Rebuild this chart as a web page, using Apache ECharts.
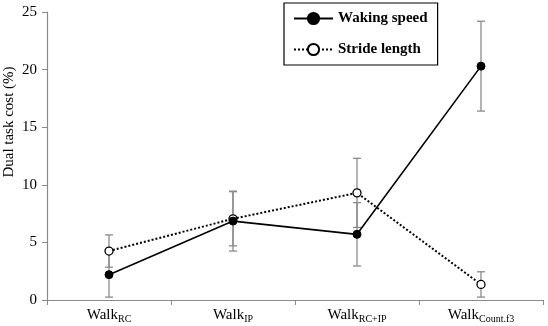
<!DOCTYPE html>
<html>
<head>
<meta charset="utf-8">
<script src="https://cdn.jsdelivr.net/npm/echarts@6/dist/echarts.min.js"></script>
<style>
  html, body { margin: 0; padding: 0; background: #fff; }
  #chart { width: 548px; height: 326px; }
</style>
</head>
<body>
<div id="chart"></div>
<script>
// categories (main text + subscript)
const categories = ['RC', 'IP', 'RC+IP', 'Count.f3'];

// dual task cost (%) with symmetric error (+/-)
const walkingSpeed = [2.2, 6.85, 5.7, 20.3];
const walkingSpeedErr = [1.95, 2.6, 2.75, 3.9];
const strideLength = [4.25, 7.05, 9.3, 1.35];
const strideLengthErr = [1.4, 2.35, 3.0, 1.1];

const yTicks = { min: 0, max: 25, interval: 5 };

const serif = '"Liberation Serif", "Times New Roman", serif';
const errColor = '#8a8a8a';
const axisColor = '#8a8a8a';

const chart = echarts.init(document.getElementById('chart'));

function errData(vals, errs) {
  return vals.map((v, i) => [i, v - errs[i], v + errs[i]]);
}

function renderErr(params, api) {
  const x = api.value(0);
  const lo = api.coord([x, api.value(1)]);
  const hi = api.coord([x, api.value(2)]);
  const half = 4;
  const style = { stroke: errColor, lineWidth: 1.3 };
  return {
    type: 'group',
    children: [
      { type: 'line', shape: { x1: lo[0], y1: lo[1], x2: hi[0], y2: hi[1] }, style },
      { type: 'line', shape: { x1: lo[0] - half, y1: lo[1], x2: lo[0] + half, y2: lo[1] }, style },
      { type: 'line', shape: { x1: hi[0] - half, y1: hi[1], x2: hi[0] + half, y2: hi[1] }, style }
    ]
  };
}

const option = {
  animation: false,
  backgroundColor: '#fff',
  grid: { left: 47, right: 5, top: 12, bottom: 26, containLabel: false, outerBoundsMode: 'none' },
  legend: {
    data: ['Waking speed', 'Stride length'],
    orient: 'vertical',
    left: 284,
    top: 3,
    padding: [8, 10, 8, 9],
    itemWidth: 39,
    itemHeight: 14,
    itemGap: 16,
    borderColor: '#000',
    borderWidth: 1.2,
    textStyle: { fontFamily: serif, fontSize: 15, fontWeight: 'bold', color: '#000' }
  },
  xAxis: {
    type: 'category',
    data: categories,
    axisLine: { lineStyle: { color: axisColor, width: 1.2 } },
    axisTick: { show: true, length: 5, lineStyle: { color: axisColor } },
    axisLabel: {
      margin: 6,
      interval: 0,
      formatter: (v) => '{m|Walk}{s|' + v + '}',
      rich: {
        m: { fontFamily: serif, fontSize: 15, color: '#000', lineHeight: 18 },
        s: { fontFamily: serif, fontSize: 10, color: '#000', padding: [8, 0, 0, 0], lineHeight: 18 }
      }
    },
    splitLine: { show: false }
  },
  yAxis: {
    type: 'value',
    min: yTicks.min,
    max: yTicks.max,
    interval: yTicks.interval,
    name: 'Dual task cost (%)',
    nameLocation: 'middle',
    nameGap: 30,
    nameMoveOverlap: false,
    nameTextStyle: { fontFamily: serif, fontSize: 15, color: '#000', padding: [0, 0, 0, 68] },
    axisLine: { show: true, lineStyle: { color: axisColor, width: 1.2 } },
    axisTick: { show: true, length: 5, lineStyle: { color: axisColor } },
    axisLabel: { fontFamily: serif, fontSize: 15, color: '#000', margin: 10 },
    splitLine: { show: false }
  },
  series: [
    {
      type: 'custom',
      name: 'speedErr',
      renderItem: renderErr,
      data: errData(walkingSpeed, walkingSpeedErr),
      z: 1,
      silent: true
    },
    {
      type: 'custom',
      name: 'strideErr',
      renderItem: renderErr,
      data: errData(strideLength, strideLengthErr),
      z: 1,
      silent: true
    },
    {
      type: 'line',
      name: 'Stride length',
      data: strideLength,
      symbol: 'circle',
      symbolSize: 8,
      itemStyle: { color: '#fff', borderColor: '#000', borderWidth: 1.3 },
      lineStyle: { color: '#000', width: 2, type: [2, 2] },
      z: 3
    },
    {
      type: 'line',
      name: 'Waking speed',
      data: walkingSpeed,
      symbol: 'circle',
      symbolSize: 8,
      itemStyle: { color: '#000', borderColor: '#000', borderWidth: 1 },
      lineStyle: { color: '#000', width: 1.6 },
      z: 4
    }
  ]
};

chart.setOption(option);
</script>
</body>
</html>
